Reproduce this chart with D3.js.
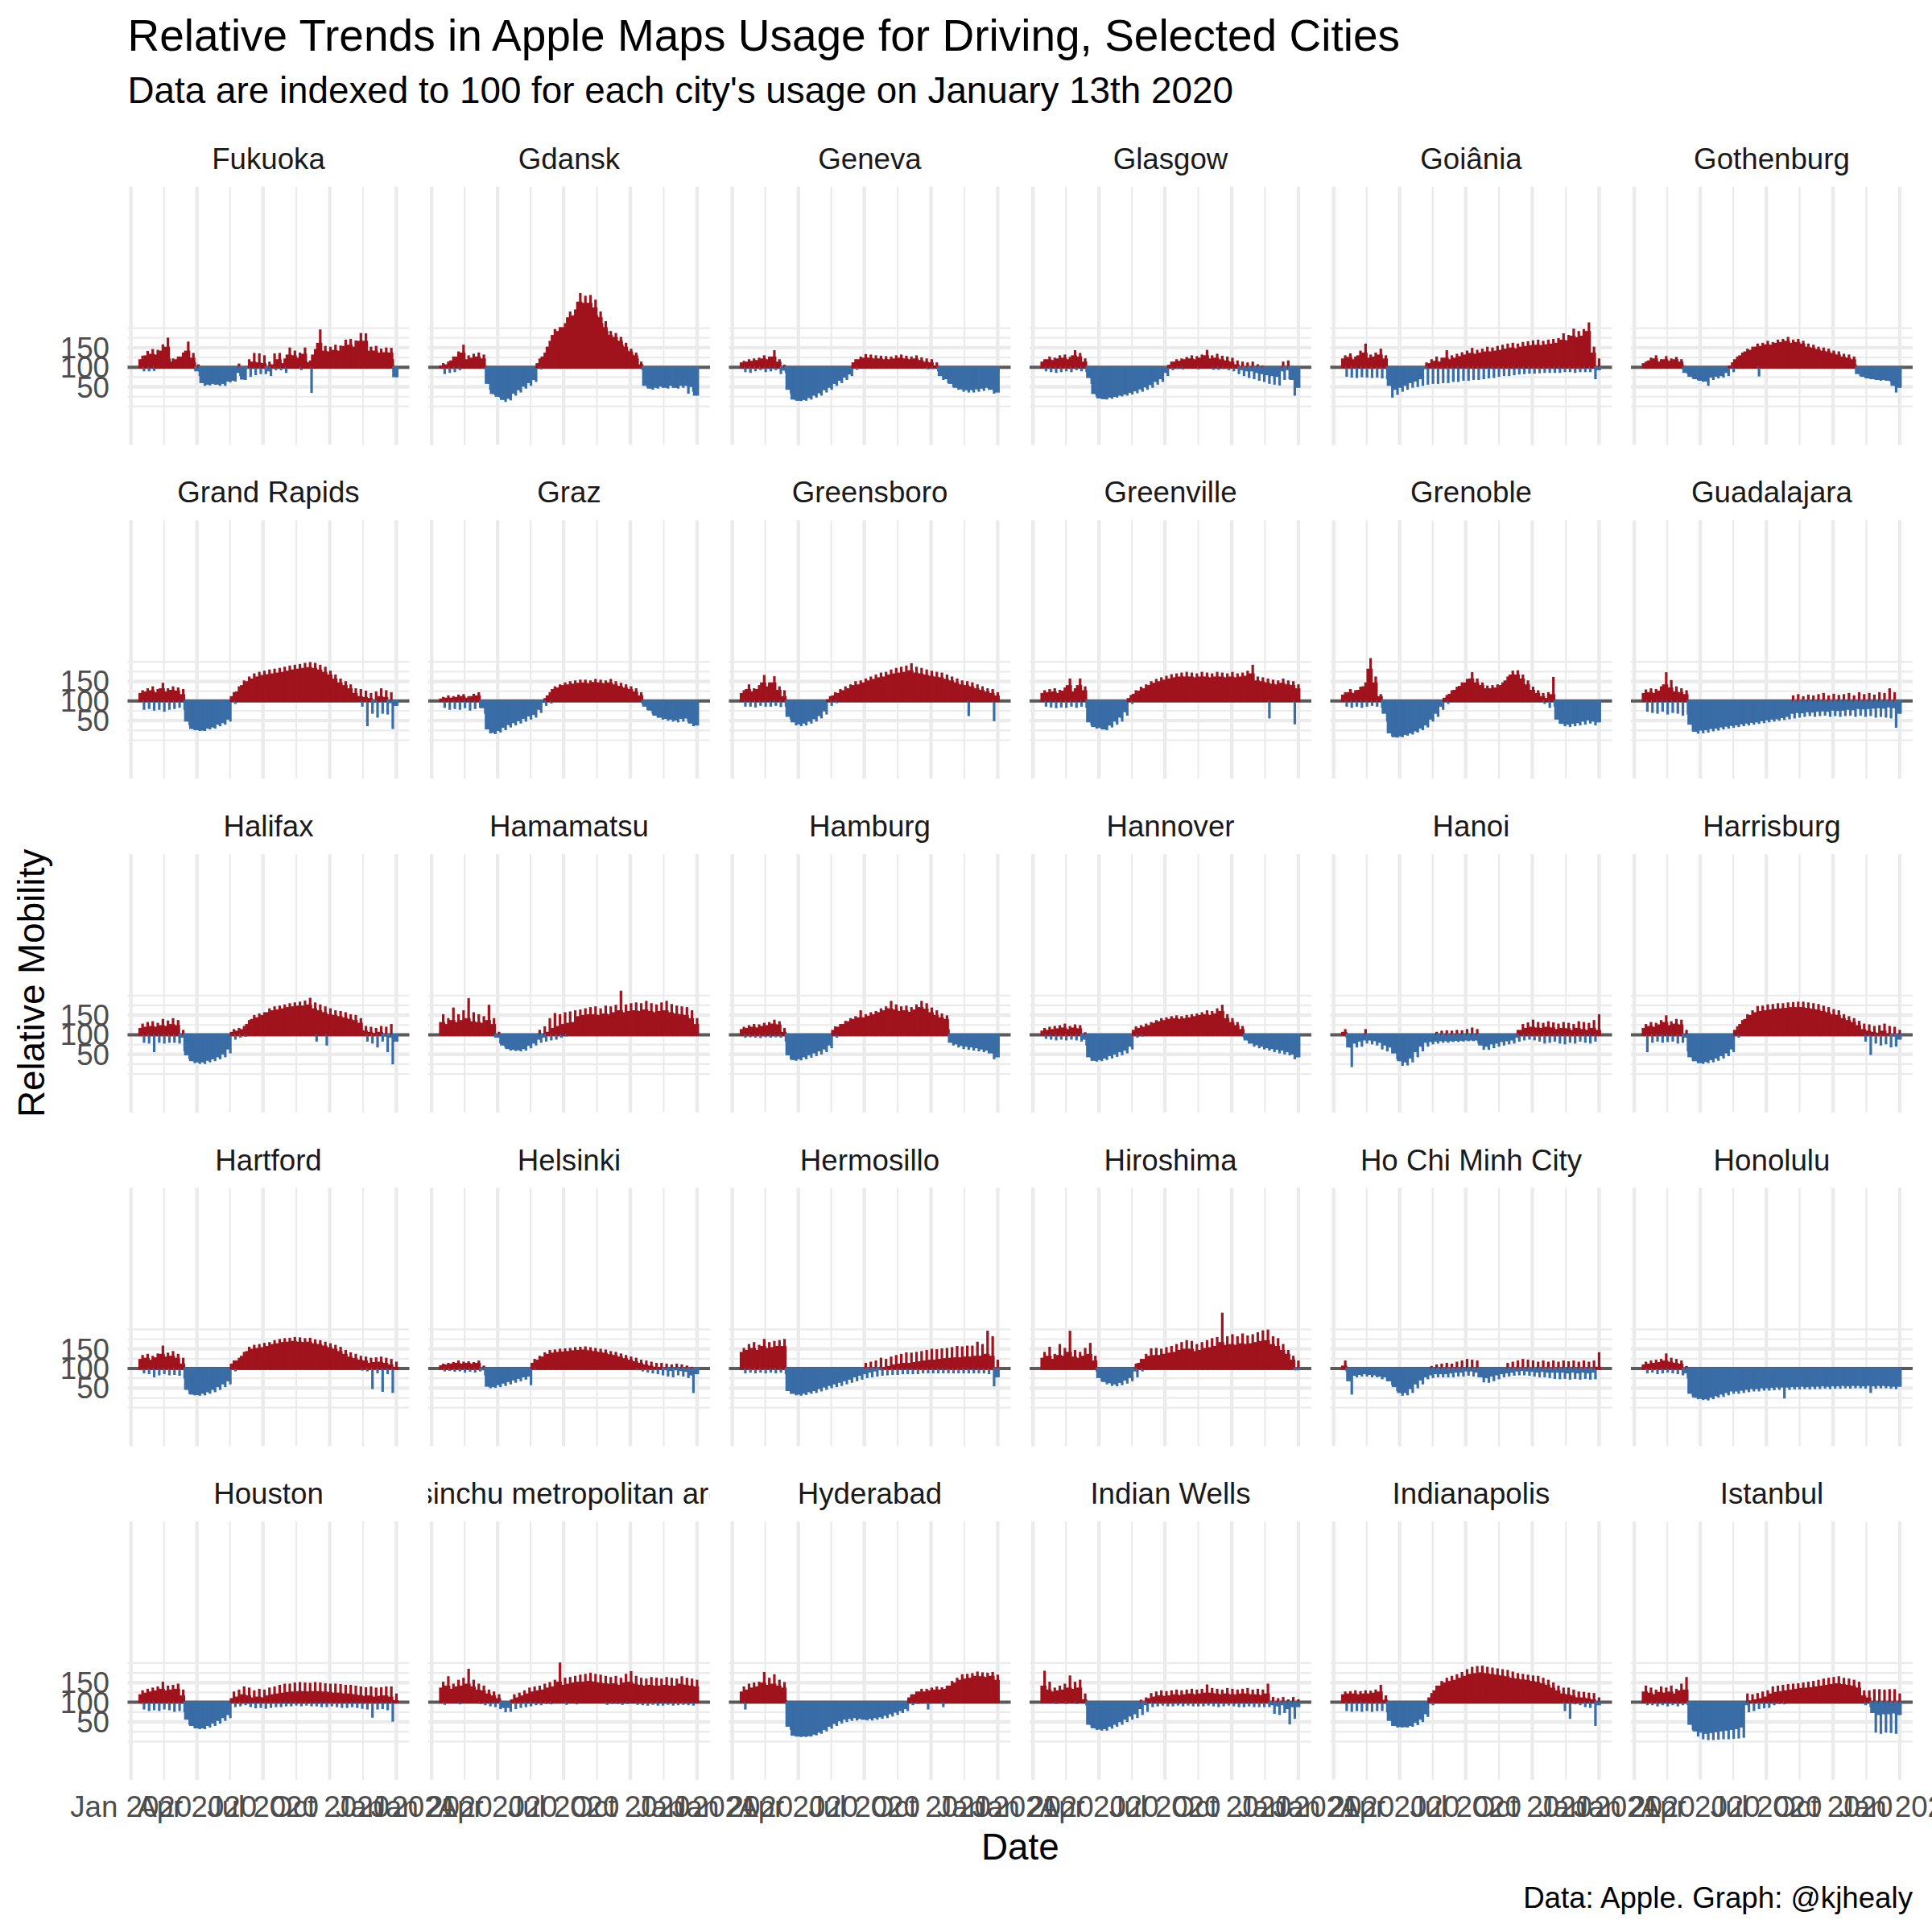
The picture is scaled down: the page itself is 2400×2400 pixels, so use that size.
<!DOCTYPE html>
<html><head><meta charset="utf-8">
<script src="https://cdn.jsdelivr.net/npm/d3@7"></script>
<style>body{margin:0;background:#fff}svg{display:block}text{font-family:"Liberation Sans",Arial,Helvetica,sans-serif}</style>
</head><body>
<svg id="chart" width="2400" height="2400"></svg>
<script>
// ---------------- DATA (weekly readings, weeks starting Monday 13 Jan 2020) ----------------
const cities = ["Fukuoka","Gdansk","Geneva","Glasgow","Goiânia","Gothenburg",
  "Grand Rapids","Graz","Greensboro","Greenville","Grenoble","Guadalajara",
  "Halifax","Hamamatsu","Hamburg","Hannover","Hanoi","Harrisburg",
  "Hartford","Helsinki","Hermosillo","Hiroshima","Ho Chi Minh City","Honolulu",
  "Houston","Hsinchu metropolitan area","Hyderabad","Indian Wells","Indianapolis","Istanbul"];
const firstWeekStart = "2020-01-13";
const lastDataDay = "2021-01-02";
// typical day of each week (Mon-Thu, Sat)
const weeklyBase = [
[118,128,132,130,140,150,112,118,125,140,122,92,62,58,60,58,60,66,68,88,71,100,112,110,108,92,105,118,108,130,128,122,132,110,130,160,140,138,142,140,152,155,150,165,165,140,140,135,136,135,77],
[102,105,115,125,135,118,122,125,120,60,34,27,19,22,35,44,53,62,70,108,125,150,180,190,200,225,230,265,262,262,250,225,200,180,175,165,150,138,128,105,55,48,50,53,50,55,50,55,55,52,30],
[110,112,114,116,120,118,125,112,94,45,20,17,19,24,30,36,44,50,60,68,76,84,110,118,122,122,120,120,118,118,120,122,120,118,120,116,112,110,102,80,72,60,50,46,44,44,46,48,50,45,38],
[112,118,116,120,122,118,128,125,112,75,34,23,21,25,27,30,33,37,41,46,51,57,65,72,88,104,112,114,118,120,118,122,128,120,122,118,115,112,105,95,92,92,88,85,82,80,78,92,95,70,50],
[120,124,118,128,135,122,125,130,120,55,45,50,55,62,66,72,98,108,114,112,122,118,122,126,130,134,132,135,138,138,140,142,145,148,146,150,152,154,155,154,156,158,160,168,166,178,174,178,190,135,95],
[108,115,120,112,118,114,118,112,88,78,72,68,66,76,78,80,88,102,118,128,138,142,150,152,156,155,160,162,165,160,162,158,150,148,144,140,138,134,130,125,122,118,85,78,74,72,70,70,68,55,50],
[118,122,125,120,130,122,126,124,115,50,31,28,27,32,35,42,46,55,110,122,138,148,155,160,164,166,168,170,172,175,178,180,182,184,182,178,172,165,155,145,138,130,118,110,108,105,98,110,108,97,90],
[104,106,106,108,110,106,110,112,84,30,21,26,34,41,46,51,57,63,67,80,98,112,128,132,138,140,142,144,145,143,146,145,143,145,140,136,132,128,122,112,88,78,65,60,57,55,53,57,58,45,40],
[118,128,122,128,145,135,145,126,110,62,48,43,45,50,56,64,76,102,112,118,125,130,138,140,145,150,154,158,160,165,168,170,172,176,170,168,165,162,160,158,154,150,145,140,138,135,130,126,122,118,112],
[118,120,122,118,124,138,122,138,125,48,36,34,30,40,50,60,74,105,116,124,130,138,144,148,152,155,158,160,160,160,158,160,160,158,160,160,158,160,158,160,162,168,150,148,145,142,140,144,140,138,130],
[114,120,118,126,135,180,145,110,70,20,10,12,16,20,25,32,40,55,70,88,106,116,126,136,145,155,145,138,130,130,132,138,150,165,165,155,140,126,118,110,105,115,55,44,42,44,46,50,53,50,48],
[118,120,118,124,140,132,122,120,115,42,24,27,28,31,32,35,37,39,40,43,45,47,48,51,53,55,56,59,62,70,72,71,74,73,75,76,75,78,77,78,80,79,82,81,82,83,84,83,86,84,70],
[115,118,120,118,122,120,125,122,95,50,35,32,32,36,40,45,52,65,105,108,112,125,138,142,148,155,160,162,165,168,170,172,172,175,165,160,155,150,148,145,142,138,135,128,108,105,102,105,98,95,85],
[130,125,135,130,135,140,132,130,128,135,125,95,75,66,64,63,66,74,80,90,95,105,115,120,125,128,130,145,148,150,150,148,152,150,155,160,155,158,160,158,162,158,155,158,160,155,152,150,148,140,125],
[112,115,118,116,120,122,126,124,105,50,38,40,45,50,55,60,65,75,110,118,125,132,138,142,142,146,150,155,160,165,162,158,160,156,162,168,164,155,148,142,138,82,78,74,72,70,68,65,62,55,45],
[108,110,112,114,116,112,116,114,90,45,36,38,42,48,52,58,62,72,110,115,118,122,128,132,135,138,140,138,140,142,145,148,150,148,152,158,140,130,122,112,88,80,76,72,68,66,64,62,58,52,45],
[105,70,80,85,88,88,86,82,75,70,55,35,32,42,58,72,82,84,85,86,86,86,87,87,88,88,88,75,72,78,80,84,86,88,95,110,115,118,116,115,118,116,112,115,114,110,115,112,110,115,110],
[115,120,118,124,130,122,126,124,95,45,35,30,33,38,42,48,55,65,110,125,138,148,155,158,160,162,164,165,166,168,168,168,166,164,162,158,155,150,148,140,135,130,122,112,108,105,102,108,101,98,90],
[122,125,120,126,135,128,130,125,110,48,36,35,38,42,48,55,62,70,110,118,130,142,148,150,152,155,160,162,165,166,168,166,165,166,162,160,156,152,148,142,135,128,124,120,118,112,114,115,112,108,102],
[106,108,110,112,110,112,110,112,98,56,55,60,64,68,72,76,80,82,112,120,128,135,138,140,141,142,144,145,146,144,142,140,138,134,132,128,124,120,116,112,108,105,102,101,98,96,98,96,94,85,88],
[140,145,150,145,155,150,152,155,155,45,38,36,38,42,45,50,54,58,62,66,70,74,80,84,88,92,95,98,101,104,108,110,112,112,114,116,118,120,120,122,124,125,126,126,128,128,130,130,135,130,80],
[125,130,122,132,130,140,128,125,130,135,118,78,68,65,62,66,72,78,95,112,122,130,132,132,135,138,140,145,148,148,142,145,150,152,155,165,158,160,158,162,160,162,165,168,170,160,155,145,135,120,98],
[105,70,84,86,88,86,85,82,80,70,55,40,40,50,62,72,80,85,88,88,88,90,92,92,95,95,92,80,78,82,85,88,90,92,95,96,95,94,92,94,92,92,92,92,90,92,90,92,90,92,102],
[108,110,112,114,118,115,112,110,90,38,28,25,24,28,32,36,40,44,44,46,48,50,50,52,52,53,54,54,54,55,55,56,55,56,56,57,56,57,57,58,57,58,58,57,58,57,58,58,57,56,56],
[118,122,125,128,132,128,130,132,115,58,42,36,36,42,48,55,62,70,108,112,118,115,110,112,110,115,118,120,122,124,125,126,126,125,126,126,125,124,122,122,120,120,118,116,114,115,112,114,115,112,103],
[135,140,132,138,140,145,138,130,128,120,115,108,88,88,105,110,115,120,125,128,130,135,138,150,142,145,148,150,150,152,150,148,146,145,146,142,148,150,145,142,140,142,140,140,142,140,140,145,142,140,138],
[125,130,135,138,148,142,145,140,135,40,17,15,15,16,20,25,32,40,47,54,58,60,62,60,58,60,62,64,68,72,76,80,85,110,118,125,125,128,130,130,132,140,148,155,158,160,165,164,162,165,155],
[140,130,125,128,130,135,132,135,105,45,36,33,34,40,45,52,58,66,72,85,95,108,112,115,114,115,118,116,118,120,118,120,122,122,120,118,120,118,118,120,120,118,118,116,120,95,92,95,85,90,90],
[118,120,120,118,120,120,122,125,104,55,42,39,39,42,50,58,72,110,128,140,148,152,155,160,165,170,172,174,172,170,168,166,164,160,158,156,155,152,150,146,142,135,128,120,118,115,110,110,108,105,95],
[125,122,118,124,122,125,120,128,130,45,28,25,22,24,26,28,30,32,34,38,95,102,105,108,112,120,124,126,128,130,132,134,135,136,138,140,142,144,146,144,142,140,135,115,110,75,70,72,72,74,70]
];
// busiest day of each week (Fri)
const weeklyPeak = [
[127,139,144,142,156,173,120,125,135,163,134,105,70,60,62,62,63,68,70,107,72,118,134,133,128,112,133,134,120,148,140,135,148,115,144,194,152,150,155,153,168,170,166,185,184,150,152,145,148,147,78],
[108,112,125,138,155,128,132,135,130,70,38,30,22,25,40,48,58,68,75,120,135,165,195,200,210,240,245,287,280,282,270,240,215,190,185,175,160,145,135,112,60,52,55,58,55,60,55,62,60,58,35],
[114,118,120,122,128,125,141,118,104,55,25,20,22,28,35,40,48,55,65,72,80,88,118,125,131,130,128,127,126,125,128,130,127,125,128,123,120,118,110,85,78,65,55,50,48,48,50,52,55,50,40],
[118,125,122,128,130,124,141,134,120,90,40,25,23,28,30,33,36,40,45,50,55,62,70,76,95,112,118,120,124,128,126,130,142,128,132,127,125,122,115,112,110,112,105,102,95,92,90,112,115,80,60],
[128,133,125,140,158,130,135,145,128,70,55,58,62,70,75,80,110,118,125,122,141,128,132,136,140,147,142,145,150,148,152,155,158,160,158,162,164,166,168,165,168,170,172,184,180,196,190,195,212,150,120],
[112,122,128,118,126,120,124,118,92,82,76,72,70,80,82,85,95,110,125,135,145,150,158,160,165,162,168,170,175,168,170,165,158,155,150,148,145,140,138,132,130,125,90,82,78,76,74,75,72,62,55],
[125,130,135,128,144,130,135,132,128,60,35,30,28,35,38,45,50,60,120,135,150,160,168,172,175,178,180,182,185,188,190,192,195,197,195,190,185,175,165,155,148,140,130,128,124,118,122,130,125,120,95],
[108,112,110,114,115,110,116,120,90,35,25,30,38,45,50,55,62,68,72,85,105,120,135,140,145,148,150,152,152,150,154,152,150,154,148,144,140,135,130,120,95,85,70,65,62,60,58,62,65,50,45],
[125,140,130,138,164,145,161,135,125,70,55,48,50,55,62,70,82,110,120,128,135,140,148,150,155,160,165,170,172,178,182,185,188,194,185,182,178,175,172,170,165,160,155,150,148,145,140,135,130,128,120],
[125,128,130,126,132,155,130,155,135,55,42,38,32,45,55,65,80,113,125,134,140,148,154,158,162,166,168,170,172,170,168,172,170,168,172,170,168,172,168,170,175,190,160,158,155,152,150,155,150,148,140],
[120,128,125,134,145,207,160,115,80,25,12,14,18,22,28,35,45,60,75,95,113,125,134,145,154,171,155,145,137,138,140,145,160,175,176,165,150,134,125,118,120,159,60,48,45,48,50,55,58,55,52],
[127,130,128,135,171,151,135,130,125,50,30,32,35,38,40,42,44,46,48,50,52,54,56,58,60,62,64,66,70,112,115,110,114,112,115,118,112,116,113,115,118,112,120,115,118,114,120,118,130,120,90],
[126,130,132,128,138,134,140,135,110,60,40,35,35,40,45,50,58,72,112,115,120,135,148,152,155,165,170,172,175,178,180,182,185,192,180,175,170,165,160,158,155,150,148,140,120,118,115,120,118,125,95],
[150,140,167,150,160,191,155,150,145,174,140,105,80,70,68,66,70,78,85,110,119,140,153,150,155,157,160,162,165,168,170,165,172,170,174,210,175,178,180,178,184,178,175,180,184,176,172,170,168,160,140],
[118,122,125,124,128,130,136,132,115,55,40,42,48,52,58,62,68,78,119,125,133,140,145,160,150,155,158,165,170,184,175,170,172,168,175,184,178,167,160,152,147,88,82,78,76,75,72,70,68,60,50],
[115,118,120,122,126,120,124,122,104,50,38,40,45,50,55,60,65,75,119,122,126,130,135,140,142,145,147,145,148,150,152,155,160,158,165,174,150,140,130,120,92,85,80,75,72,70,68,66,62,58,50],
[112,98,85,90,112,95,95,90,85,80,65,45,40,50,65,80,88,95,105,108,109,108,110,109,112,116,112,85,80,82,85,88,92,95,110,125,129,136,130,128,132,129,126,130,128,125,132,130,128,135,150],
[125,130,128,135,147,132,138,136,110,50,38,32,35,40,45,52,60,70,119,135,150,160,171,172,175,176,178,178,180,181,182,182,180,178,176,172,168,163,160,150,145,140,133,126,124,120,122,126,120,118,110],
[132,135,130,136,156,138,142,135,125,55,38,36,40,45,50,58,65,75,118,125,140,153,158,160,163,165,170,173,175,176,178,177,175,176,172,170,166,162,158,153,145,139,135,130,128,125,126,128,125,122,115],
[110,112,114,118,115,116,114,118,105,60,58,62,66,70,75,80,84,86,122,130,139,145,146,148,149,150,152,153,154,152,150,148,146,142,140,136,132,128,125,120,118,115,112,112,110,108,110,108,105,102,95],
[150,160,165,158,173,165,168,170,173,60,40,38,40,44,48,52,56,60,64,68,72,76,82,90,112,115,118,125,122,128,132,135,139,138,140,142,145,148,147,149,150,152,155,154,156,156,166,160,194,180,120],
[140,153,135,160,150,194,145,140,150,163,130,85,72,68,66,70,75,82,110,122,135,149,150,148,152,155,160,165,170,168,160,165,170,175,178,240,180,185,180,187,182,185,190,195,197,180,175,160,145,130,118],
[118,90,88,90,92,90,90,88,85,75,60,45,45,55,68,78,85,104,108,110,112,110,115,118,122,120,118,90,88,90,92,95,112,115,118,122,120,118,115,118,115,118,115,118,116,118,115,118,115,118,139],
[115,118,120,122,136,125,122,118,104,45,30,26,26,30,34,38,42,46,56,58,60,62,62,64,64,65,66,66,66,67,67,68,67,68,68,69,68,69,69,70,69,70,70,69,70,69,70,70,69,68,68],
[128,132,135,138,150,140,142,145,130,65,45,38,38,45,52,58,65,72,125,130,138,135,128,132,130,135,138,142,145,145,148,149,148,147,149,148,146,145,145,144,142,142,140,138,136,138,135,136,138,138,120],
[150,164,145,155,160,183,155,145,140,130,125,118,95,92,118,122,128,135,138,140,145,149,155,199,160,162,165,168,170,173,170,168,165,162,165,160,170,177,165,160,158,162,160,158,162,160,158,164,160,158,155],
[138,145,148,150,175,160,169,155,149,60,20,16,16,18,22,28,35,42,50,56,60,63,64,62,60,62,64,66,70,74,78,84,88,118,125,132,132,135,138,136,140,152,160,169,170,172,176,174,173,175,168],
[178,150,135,140,145,166,150,155,120,50,40,35,36,42,48,55,62,70,75,104,110,121,125,128,126,128,130,128,130,132,130,132,143,134,132,130,134,132,130,132,134,130,132,130,145,111,108,111,105,111,105],
[125,126,128,126,128,127,130,142,115,60,45,40,40,45,52,62,80,121,140,152,160,165,169,175,182,188,190,191,188,186,184,182,180,176,172,170,168,166,165,160,155,148,140,135,135,130,125,124,122,121,110],
[140,135,130,138,135,140,132,145,162,60,35,30,28,30,32,34,36,38,40,45,120,118,121,125,128,138,140,142,144,145,146,148,150,152,155,158,160,162,164,160,158,155,150,128,128,131,131,130,131,131,120]
];
// quietest day of each week (Sun)
const weeklyLow = [
[92,92,93,110,115,120,105,108,110,120,110,80,55,56,58,55,55,64,66,80,70,78,82,85,85,80,95,95,88,110,110,95,112,37,115,120,118,115,120,118,125,125,125,130,130,120,120,115,118,118,76],
[85,88,90,95,104,102,105,108,102,45,30,25,14,18,30,38,48,55,65,97,120,140,160,180,190,210,215,240,245,240,230,210,190,170,165,155,140,130,120,95,50,45,48,50,48,50,48,50,35,40,27],
[90,88,92,95,90,92,95,85,88,35,18,16,17,20,25,30,38,45,55,62,70,80,96,110,115,112,112,110,110,108,112,112,110,108,110,105,97,98,92,70,62,52,45,40,38,38,40,42,45,35,35],
[92,90,88,90,92,90,95,92,90,60,28,22,20,22,25,28,30,33,36,40,45,50,58,65,80,95,98,97,105,105,97,105,108,96,96,98,95,92,85,80,75,72,68,65,60,58,56,70,72,30,28],
[78,76,75,77,76,75,76,74,72,25,32,40,45,50,52,55,58,60,60,62,62,65,65,68,68,70,70,72,74,75,78,80,80,82,84,85,86,86,87,88,88,88,88,90,90,88,90,90,90,72,58],
[103,102,108,103,104,103,102,103,85,75,70,65,55,70,74,76,80,90,105,115,125,130,79,140,142,140,145,150,152,145,148,145,138,135,130,128,125,120,118,112,110,105,80,75,72,70,68,68,65,38,38],
[80,82,78,80,75,80,82,85,80,40,28,26,26,30,32,38,42,50,95,110,120,130,140,145,148,150,152,155,155,158,160,160,162,165,162,158,155,150,140,130,125,118,110,88,38,70,60,70,68,31,80],
[85,80,82,80,84,78,82,85,70,20,18,22,28,35,40,45,50,55,60,72,90,96,115,120,125,128,130,130,132,130,132,130,128,130,125,122,118,112,108,95,80,70,60,55,52,50,48,50,50,38,35],
[88,88,86,90,88,88,90,87,88,55,40,38,40,45,50,58,68,90,97,105,110,115,120,125,128,130,135,138,140,145,148,150,152,155,150,148,145,140,138,135,132,128,125,120,64,118,112,110,105,51,95],
[88,86,84,86,85,88,85,88,85,40,32,30,28,35,42,50,65,95,105,110,118,122,128,130,135,138,140,140,142,140,138,142,140,140,142,140,138,142,138,140,142,145,130,128,58,125,122,125,120,43,110],
[88,85,88,85,88,90,88,85,50,12,9,10,14,17,22,28,35,50,62,80,95,105,112,120,128,135,130,125,118,118,120,122,130,140,142,135,125,112,105,95,85,88,45,38,36,38,40,42,45,40,40],
[75,72,70,75,68,72,70,65,68,25,19,20,22,25,27,30,32,34,36,38,40,42,44,46,48,50,52,54,56,58,60,62,64,62,64,65,62,64,62,64,65,62,65,62,64,60,62,60,58,34,34],
[82,80,58,82,80,82,82,80,60,40,30,28,28,32,35,40,45,55,90,95,97,110,120,125,130,135,140,142,145,148,150,150,150,150,85,140,75,135,130,128,125,120,118,110,85,80,70,85,58,27,70],
[103,105,110,105,108,110,105,103,102,104,95,80,70,62,61,60,62,68,75,82,85,88,90,95,98,102,105,112,115,115,115,112,115,115,115,120,115,115,118,115,118,115,115,115,118,112,110,110,108,105,95],
[95,96,95,94,96,95,96,95,85,40,36,37,40,44,48,52,58,68,95,105,110,115,118,120,120,122,125,128,130,132,130,128,128,125,128,130,130,125,120,115,112,75,70,66,64,62,60,58,55,40,37],
[92,90,88,90,88,90,88,85,75,36,34,35,38,42,46,50,55,65,95,98,105,108,110,112,115,115,118,115,118,120,120,120,122,120,125,125,115,110,105,95,80,72,68,65,62,58,55,52,50,40,36],
[95,20,70,72,80,78,75,65,60,55,40,23,24,32,45,60,72,78,80,82,82,84,84,85,86,86,80,64,64,68,72,75,78,80,85,88,90,88,85,80,82,85,80,78,82,80,85,82,80,85,90],
[58,82,85,82,84,85,80,82,60,35,30,28,30,32,36,42,48,58,95,110,120,128,135,138,140,140,142,142,145,145,145,145,142,140,140,138,135,130,128,120,115,110,105,85,51,80,75,78,70,72,51],
[90,88,80,85,88,85,86,84,77,38,34,33,34,38,42,48,55,62,95,105,115,120,125,128,130,132,135,138,140,140,142,140,140,140,138,135,132,130,125,120,115,110,105,97,95,50,90,43,88,40,80],
[95,96,94,95,92,94,92,95,85,52,53,55,58,62,66,70,74,60,98,105,112,118,120,122,122,122,124,125,125,124,122,120,118,115,112,110,108,105,98,95,92,90,88,85,82,80,85,82,78,40,75],
[90,92,90,92,90,92,90,92,88,38,34,33,35,38,40,44,48,52,55,58,62,66,70,74,78,80,82,84,85,86,86,88,88,88,88,90,90,90,90,90,90,90,90,90,90,90,90,90,88,57,57],
[104,102,106,102,103,105,105,104,106,103,95,70,62,58,57,60,64,70,80,95,105,110,112,110,112,115,115,118,118,118,115,115,118,120,120,122,120,122,120,122,120,120,122,124,124,120,118,115,110,98,64],
[95,36,80,82,82,80,80,75,70,60,45,33,34,40,52,62,75,78,80,80,80,80,82,82,84,82,80,67,66,70,75,80,82,84,85,85,84,82,80,80,78,76,75,76,74,76,74,76,74,75,80],
[90,92,88,90,92,90,88,85,77,30,24,22,21,24,28,30,34,38,38,40,42,44,44,46,46,47,48,26,48,49,49,50,49,50,50,51,50,51,51,52,51,52,52,51,40,51,52,52,51,50,50],
[84,80,82,80,84,82,78,80,77,45,36,34,34,38,42,48,55,62,90,92,95,90,87,88,86,88,90,90,92,92,94,92,94,92,92,90,90,92,90,88,88,90,88,86,84,63,84,85,82,53,80],
[96,102,104,97,102,105,104,98,95,92,90,85,77,78,85,88,90,92,95,95,98,97,103,110,96,104,97,102,102,104,102,103,96,98,98,96,98,103,96,95,94,96,94,94,96,94,95,96,95,94,95],
[84,104,102,104,105,104,105,102,103,32,15,14,14,15,18,22,28,35,42,48,52,55,56,58,56,56,58,60,62,66,70,75,80,95,98,105,84,108,110,90,110,112,115,115,118,118,120,118,118,120,115],
[104,103,98,104,98,102,98,104,94,38,32,30,30,35,40,45,52,58,62,70,78,90,92,94,92,92,94,92,94,92,92,92,94,92,90,92,94,92,90,90,92,90,90,90,90,73,70,75,46,60,70],
[80,78,80,78,80,78,80,80,77,42,38,38,38,40,44,52,65,95,110,120,125,130,132,135,140,142,145,145,145,142,140,140,138,135,132,130,130,128,125,122,118,112,108,80,60,97,95,90,88,42,70],
[95,95,92,95,92,95,92,95,95,32,15,8,6,6,7,8,8,9,10,12,77,80,85,87,88,95,98,97,103,102,102,104,104,105,106,108,108,110,110,108,106,105,102,95,90,25,22,25,24,22,22]
];
const yMajorBreaks = [50, 100, 150];
const yMinorBreaks = [0, 25, 75, 125, 175, 200];
const xBreakDates = ["2020-01-01", "2020-04-01", "2020-07-01", "2020-10-01", "2021-01-01"];
const xBreakLabels = ["Jan 2020", "Apr 2020", "Jul 2020", "Oct 2020", "Jan 2021"];

// ---------------- LAYOUT ----------------
const svg = d3.select("#chart");
const RED = "#A0131D", BLUE = "#3A6DA6", GRID = "#EBEBEB";
const panelW = 350, panelH = 321, left0 = 158.5, top0 = 231.7, colStep = 373.5, rowStep = 414.6, ncol = 6;
const DAY = 864e5;
const parse = d3.utcParse("%Y-%m-%d");
const start = parse(firstWeekStart).getTime();
const endT = parse(lastDataDay).getTime();

const x = d3.scaleUtc()
  .domain([new Date(Date.UTC(2019, 11, 27, 8)), new Date(Date.UTC(2021, 0, 18, 20))])
  .range([0, panelW]);
const y = d3.scaleLinear().domain([-98.2, 561.2]).range([panelH, 0]);

svg.append("rect").attr("width", 2400).attr("height", 2400).attr("fill", "#fff");

const defs = svg.append("defs");
defs.append("clipPath").attr("id", "stripClip")
  .append("rect").attr("x", 0).attr("y", -90).attr("width", panelW).attr("height", 90);

const majorDates = xBreakDates.map(parse);
const minorDates = d3.pairs(majorDates).map(([a, b]) => new Date((a.getTime() + b.getTime()) / 2));

// day-of-week slots of a week: Mon-Thu typical, Fri busiest, Sat typical, Sun quietest
const slots = [[0, 3, "base"], [4, 4, "peak"], [5, 5, "base"], [6, 6, "low"]];

cities.forEach((city, i) => {
  const col = i % ncol, row = Math.floor(i / ncol);
  const px = left0 + col * colStep, py = top0 + row * rowStep;
  const g = svg.append("g").attr("transform", `translate(${px},${py})`);

  // grid
  g.selectAll(".hmin").data(yMinorBreaks).join("line")
    .attr("x1", 0).attr("x2", panelW).attr("y1", d => y(d)).attr("y2", d => y(d))
    .attr("stroke", GRID).attr("stroke-width", 2.2);
  g.selectAll(".vmin").data(minorDates).join("line")
    .attr("x1", d => x(d)).attr("x2", d => x(d)).attr("y1", 0).attr("y2", panelH)
    .attr("stroke", GRID).attr("stroke-width", 2.2);
  g.selectAll(".hmaj").data(yMajorBreaks).join("line")
    .attr("x1", 0).attr("x2", panelW).attr("y1", d => y(d)).attr("y2", d => y(d))
    .attr("stroke", GRID).attr("stroke-width", 4.4);
  g.selectAll(".vmaj").data(majorDates).join("line")
    .attr("x1", d => x(d)).attr("x2", d => x(d)).attr("y1", 0).attr("y2", panelH)
    .attr("stroke", GRID).attr("stroke-width", 4.4);

  // reference line at 100
  g.append("line").attr("x1", 0).attr("x2", panelW).attr("y1", y(100)).attr("y2", y(100))
    .attr("stroke", "#5A5A5A").attr("stroke-width", 4);

  // bars
  const series = { base: weeklyBase[i], peak: weeklyPeak[i], low: weeklyLow[i] };
  const bars = [];
  series.base.forEach((_, k) => {
    slots.forEach(([d0, d1, key]) => {
      const t0 = start + (7 * k + d0) * DAY;
      let t1 = start + (7 * k + d1) * DAY;
      if (t0 > endT) return;
      if (t1 > endT) t1 = endT;
      bars.push({ t0: t0 - 0.45 * DAY, t1: t1 + 0.45 * DAY, v: series[key][k] });
    });
  });
  g.selectAll(".bar").data(bars).join("rect")
    .attr("x", d => x(new Date(d.t0)))
    .attr("width", d => x(new Date(d.t1)) - x(new Date(d.t0)))
    .attr("y", d => y(Math.max(d.v, 100)))
    .attr("height", d => Math.abs(y(d.v) - y(100)))
    .attr("fill", d => d.v > 100 ? RED : BLUE)
    .attr("stroke", d => d.v > 100 ? RED : BLUE)
    .attr("stroke-width", 2.4);

  // strip label
  g.append("text").attr("clip-path", "url(#stripClip)")
    .attr("x", panelW / 2).attr("y", -22).attr("text-anchor", "middle")
    .attr("font-size", 36.7).attr("fill", "#1A1A1A").text(city);

  // y axis labels on first column
  if (col === 0) {
    yMajorBreaks.forEach(b => {
      svg.append("text").attr("x", 136).attr("y", py + y(b) + 13)
        .attr("text-anchor", "end").attr("font-size", 36.7).attr("fill", "#4D4D4D").text(b);
    });
  }
  // x axis labels on bottom row
  if (row === Math.ceil(cities.length / ncol) - 1) {
    majorDates.forEach((d, j) => {
      svg.append("text").attr("x", px + x(d)).attr("y", py + panelH + 46)
        .attr("text-anchor", "middle").attr("font-size", 36.7).attr("fill", "#4D4D4D").text(xBreakLabels[j]);
    });
  }
});

// titles
svg.append("text").attr("x", 158.5).attr("y", 63).attr("font-size", 55).attr("fill", "#000")
  .text("Relative Trends in Apple Maps Usage for Driving, Selected Cities");
svg.append("text").attr("x", 158.5).attr("y", 128).attr("font-size", 45.8).attr("fill", "#000")
  .text("Data are indexed to 100 for each city's usage on January 13th 2020");
svg.append("text").attr("x", (left0 + left0 + 5 * colStep + panelW) / 2).attr("y", 2310)
  .attr("text-anchor", "middle").attr("font-size", 45.8).attr("fill", "#000").text("Date");
svg.append("text").attr("transform", `translate(55,${top0 + (4 * rowStep + panelH) / 2}) rotate(-90)`)
  .attr("text-anchor", "middle").attr("font-size", 45.8).attr("fill", "#000").text("Relative Mobility");
svg.append("text").attr("x", 2376).attr("y", 2370).attr("text-anchor", "end")
  .attr("font-size", 36.7).attr("fill", "#000").text("Data: Apple. Graph: @kjhealy");
</script>
</body></html>
